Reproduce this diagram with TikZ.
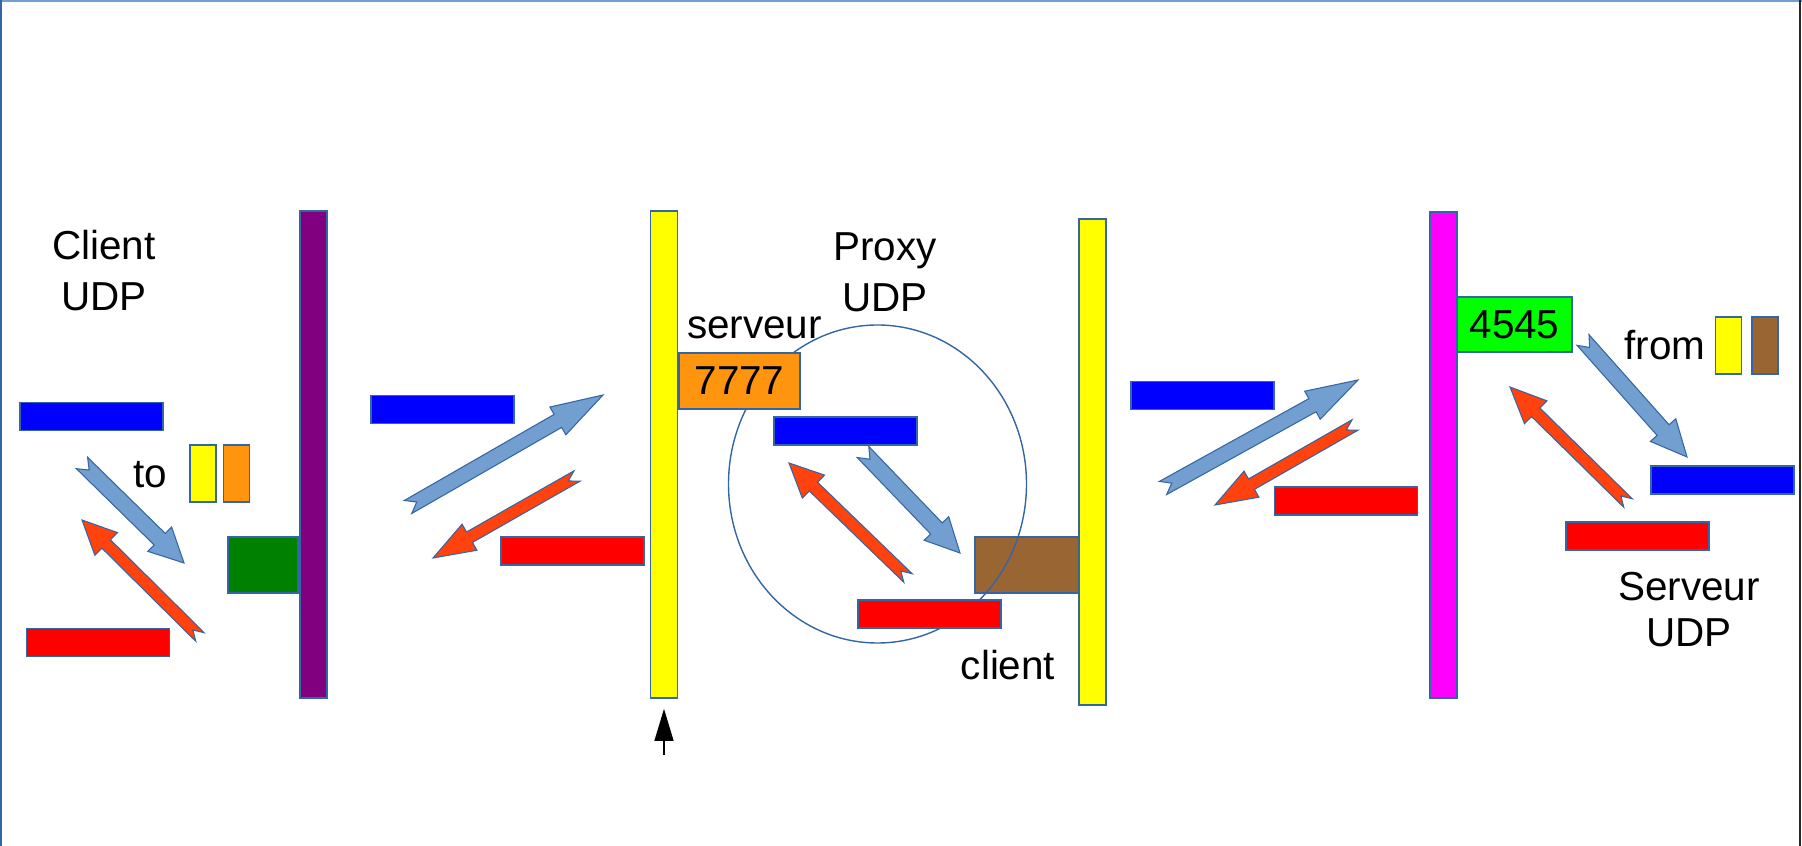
\documentclass[tikz,border=0pt]{standalone}
\usepackage{fontspec}
\setmainfont{Liberation Sans}
\usetikzlibrary{arrows.meta,calc,positioning}
\definecolor{trait}{RGB}{52,101,164}
\definecolor{flecheb}{RGB}{114,159,207}
\definecolor{flecher}{RGB}{255,66,14}
\definecolor{brun}{RGB}{153,102,51}
\definecolor{orangep}{RGB}{255,149,14}
\definecolor{violet}{RGB}{128,0,128}
\definecolor{vertf}{RGB}{0,128,0}
\definecolor{jaune}{RGB}{255,255,0}
\definecolor{fuchsia}{RGB}{255,0,255}
\definecolor{vertc}{RGB}{0,255,0}

\tikzset{
  boite/.style={draw=trait, line width=0.4pt, inner sep=0pt},
  paquet/.style={boite, minimum width=1.43cm, minimum height=0.28cm},
  mur/.style={boite, minimum width=0.27cm, minimum height=4.87cm},
  petit/.style={boite, minimum width=0.26cm, minimum height=0.57cm},
  etiq/.style={font=\fontsize{11.5}{14.5}\selectfont, align=center, inner sep=0pt},
}

% fleche pleine a queue fendue : couleur, queue, pointe, demi-corps, demi-tete, longueur tete
\newcommand{\flux}[6]{%
  \coordinate (fb) at ($(#3)!#6!(#2)$);
  \coordinate (fn) at ($(#2)!0.1cm!(#3)$);
  \filldraw[draw=trait, line width=0.3pt, fill=#1]
    ($(#2)!#4!90:(#3)$) -- ($(fb)!#4!90:(#3)$) -- ($(fb)!#5!90:(#3)$) -- (#3)
    -- ($(fb)!#5!-90:(#3)$) -- ($(fb)!#4!-90:(#3)$) -- ($(#2)!#4!-90:(#3)$) -- (fn) -- cycle;
}

\begin{document}
\begin{tikzpicture}[x=0.01cm, y=-0.01cm, >=Stealth]
        \useasboundingbox (0,0) rectangle (1802,846);
        \draw[flecheb, line width=0.6pt] (0,1) -- (1802,1);
        \draw[trait, line width=0.6pt] (1,0) -- (1,846);
        \draw[black!85, line width=0.8pt] (1800,0) -- (1800,846);

        % client UDP
        \node[etiq] (cli) at (104,271) {Client\\UDP};
        \node[paquet, fill=blue] (cb) at (91.5,416.5) {};
        \node[paquet, fill=red] (cr) at (98,642.5) {};
        \node[etiq] (to) at (150,475) {to};
        \node[petit, fill=jaune] (toy) at (203,473.5) {};
        \node[petit, fill=orangep, right=0.06cm of toy] (too) {};
        \node[mur, fill=violet] (m1) at (313.5,454.5) {};
        \node[boite, fill=vertf, minimum width=0.7cm, minimum height=0.56cm] (pc) at (263,565) {};
        \coordinate (c1) at (82,463);   \coordinate (c2) at (184,563);
        \coordinate (c3) at (200,637);  \coordinate (c4) at (82,520);
        \flux{flecheb}{c1}{c2}{0.08cm}{0.17cm}{0.34cm}
        \flux{flecher}{c3}{c4}{0.06cm}{0.16cm}{0.34cm}

        % reseau 1
        \node[paquet, fill=blue] (rb1) at (442.5,409.5) {};
        \node[paquet, fill=red] (rr1) at (572.5,551) {};
        \node[mur, fill=jaune] (m2) at (664,454.5) {};
        \coordinate (r1) at (408,507);  \coordinate (r2) at (603,395);
        \coordinate (r3) at (577,476);  \coordinate (r4) at (433,558);
        \flux{flecheb}{r1}{r2}{0.075cm}{0.16cm}{0.52cm}
        \flux{flecher}{r3}{r4}{0.06cm}{0.15cm}{0.42cm}
        \coordinate (pin) at (664,755);
        \draw[-{Triangle[length=0.32cm,width=0.19cm]}] (pin) -- ([yshift=-0.1cm]m2.south);

        % proxy UDP
        \node[boite, fill=brun, minimum width=1.05cm, minimum height=0.56cm] (pbr) at (1027.5,565) {};
        \draw[trait, line width=0.4pt] (877.5,484) ellipse [x radius=149, y radius=159];
        \node[boite, fill=orangep, minimum width=1.21cm, minimum height=0.56cm, etiq] (p7) at (739.5,381) {7777};
        \node[etiq] (srv) at (754.5,328) {serveur};
        \node[etiq] (prx) at (885,272) {Proxy\\UDP};
        \node[paquet, fill=blue] (pb) at (845.5,431) {};
        \node[paquet, fill=red] (pr) at (929.5,614) {};
        \node[etiq] (cl) at (1008,665) {client};
        \node[mur, fill=jaune, minimum height=4.86cm] (m3) at (1092.5,462) {};
        \coordinate (p1) at (863,452);  \coordinate (p2) at (960,553);
        \coordinate (p3) at (908,578);  \coordinate (p4) at (789,463);
        \flux{flecheb}{p1}{p2}{0.08cm}{0.17cm}{0.34cm}
        \flux{flecher}{p3}{p4}{0.06cm}{0.16cm}{0.34cm}

        % reseau 2
        \node[paquet, fill=blue] (rb2) at (1202.5,395.5) {};
        \node[paquet, fill=red] (rr2) at (1346,501) {};
        \node[mur, fill=fuchsia, minimum height=4.86cm] (m4) at (1443.5,455) {};
        \coordinate (q1) at (1163,488); \coordinate (q2) at (1358,380);
        \coordinate (q3) at (1355,425); \coordinate (q4) at (1215,505);
        \flux{flecheb}{q1}{q2}{0.075cm}{0.16cm}{0.52cm}
        \flux{flecher}{q3}{q4}{0.06cm}{0.15cm}{0.42cm}

        % serveur UDP
        \node[boite, fill=vertc, minimum width=1.15cm, minimum height=0.55cm, etiq] (s45) at (1514.5,324.5) {4545};
        \node[etiq] (from) at (1665,345) {from};
        \node[petit, fill=jaune] (fry) at (1728.5,345.5) {};
        \node[petit, fill=brun, right=0.09cm of fry] (frb) {};
        \node[paquet, fill=blue] (sb) at (1722.5,480) {};
        \node[paquet, fill=red] (sr) at (1637.5,536) {};
        \node[etiq] (srvu) at (1689,610) {Serveur\\[-1.4pt]UDP};
        \coordinate (s1) at (1583,340); \coordinate (s2) at (1687,457);
        \coordinate (s3) at (1628,503); \coordinate (s4) at (1510,387);
        \flux{flecheb}{s1}{s2}{0.08cm}{0.17cm}{0.36cm}
        \flux{flecher}{s3}{s4}{0.06cm}{0.16cm}{0.36cm}
      \end{tikzpicture}
\end{document}
